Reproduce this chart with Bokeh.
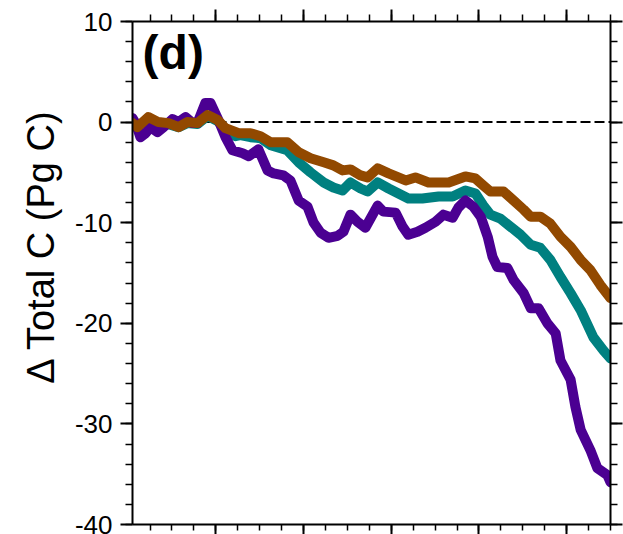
from bokeh.plotting import figure
from bokeh.models import Range1d, LinearAxis, SingleIntervalTicker, Span, Label
from bokeh.embed import file_html
from bokeh.resources import INLINE

# ---- data ----
purple_years = [1901, 1901.7, 1902.8, 1904.0, 1905.1, 1906.7, 1908.1, 1910.1, 1911.5, 1913.1,
                1914.7, 1915.8, 1917.6, 1918.8, 1920.6, 1922.2, 1923.8, 1926.1, 1927.5, 1929.7,
                1931.8, 1933.2, 1935.4, 1937.0, 1938.9, 1940.9, 1942.3, 1943.9, 1945.7, 1947.8,
                1949.1, 1950.7, 1952.3, 1954.1, 1956.9, 1958.2, 1961.0, 1962.6, 1963.9, 1966.0,
                1967.8, 1970.1, 1971.9, 1974.0, 1975.3, 1976.9, 1978.7, 1980.4, 1982.0, 1983.1,
                1984.2, 1986.5, 1987.9, 1990.2, 1991.8, 1993.6, 1995.6, 1997.5, 1998.6, 2000.9,
                2002.0, 2003.2, 2005.4, 2007.0, 2009.3, 2010.0]
purple_vals = [0.4, -0.1, -1.5, -1.1, -0.5, -1.0, -0.5, 0.3, 0.0, 0.5,
               -0.1, -0.1, 1.9, 1.9, 0.2, -1.5, -2.8, -3.1, -3.4, -2.7,
               -4.8, -5.1, -5.3, -5.8, -7.8, -8.4, -10.0, -11.0, -11.5, -11.3,
               -10.9, -9.2, -9.9, -10.5, -8.3, -8.9, -9.0, -10.4, -11.2, -10.9,
               -10.5, -9.9, -9.2, -9.5, -8.5, -7.8, -8.4, -9.4, -11.4, -13.4,
               -14.4, -14.5, -15.7, -17.0, -18.5, -18.5, -20.0, -21.0, -23.7, -25.6,
               -28.3, -30.6, -32.6, -34.4, -35.1, -35.8]

teal_years = [1901, 1902.1, 1904.6, 1906.9, 1909.2, 1911.5, 1913.5, 1915.8, 1918.1, 1920.4,
              1922.2, 1924.5, 1925.6, 1927.9, 1930.2, 1932.5, 1936.3, 1938.9, 1941.6, 1944.6,
              1946.8, 1948.9, 1950.7, 1953.0, 1954.6, 1956.9, 1959.4, 1963.9, 1967.1, 1970.8,
              1974.0, 1976.9, 1979.2, 1981.0, 1982.6, 1984.9, 1987.2, 1989.5, 1991.8, 1994.0,
              1996.3, 1998.6, 2000.9, 2003.2, 2006.1, 2008.4, 2010.0]
teal_vals = [-0.1, -0.5, 0.4, -0.1, -0.2, -0.5, -0.1, -0.2, 0.6, 0.1,
             -0.7, -1.4, -1.3, -1.5, -1.6, -2.3, -2.8, -4.0, -5.0, -6.0,
             -6.5, -6.8, -6.0, -6.6, -6.9, -6.0, -6.6, -7.6, -7.6, -7.4,
             -7.4, -6.8, -7.1, -8.3, -9.2, -9.6, -10.4, -11.2, -12.2, -12.5,
             -13.7, -15.4, -17.0, -18.7, -21.4, -22.7, -23.5]

brown_years = [1901, 1902.1, 1904.6, 1906.9, 1909.2, 1911.5, 1913.5, 1915.8, 1918.1, 1920.4,
               1922.2, 1925.2, 1927.9, 1930.2, 1932.5, 1936.3, 1938.9, 1941.6, 1944.6, 1946.8,
               1948.9, 1950.7, 1953.0, 1954.6, 1956.9, 1959.4, 1963.3, 1965.5, 1968.5, 1973.1,
               1976.9, 1979.2, 1981.0, 1982.6, 1985.6, 1987.9, 1990.2, 1991.8, 1994.0, 1996.3,
               1998.6, 2000.9, 2003.2, 2005.4, 2007.7, 2010.0]
brown_vals = [-0.1, -0.5, 0.5, 0.0, -0.1, -0.5, 0.0, -0.1, 0.7, 0.2,
              -0.6, -1.1, -1.1, -1.4, -2.0, -2.0, -3.0, -3.6, -4.0, -4.3,
              -4.8, -4.7, -5.3, -5.5, -4.6, -5.1, -5.8, -5.5, -6.0, -6.0,
              -5.4, -5.6, -6.3, -6.9, -6.9, -7.8, -8.7, -9.4, -9.4, -10.1,
              -11.4, -12.4, -13.7, -14.7, -16.2, -17.5]

x_start, x_end = 1901, 2010
y_start, y_end = -40, 10
x_major_ticks = [1920, 1940, 1960, 1980, 2000]
y_major_ticks = [-40, -30, -20, -10, 0, 10]
y_tick_labels = ["-40", "-30", "-20", "-10", "0", "10"]
panel_label = "(d)"
# leading no-break spaces shift the centred label upward, as in the reference
y_label = "\u00a0" * 5 + "\u0394 Total C (Pg C)"

FONT = "Liberation Sans"

p = figure(width=623, height=534, output_backend="svg", toolbar_location=None,
           x_range=Range1d(x_start, x_end), y_range=Range1d(y_start, y_end),
           x_axis_location=None, y_axis_location=None,
           min_border_left=132, min_border_right=13, min_border_top=21, min_border_bottom=10)
p.xgrid.visible = False
p.ygrid.visible = False
p.outline_line_color = None
p.background_fill_color = "white"
p.border_fill_color = "white"


def style(ax, overrides, font_size, standoff, tick_out=12, minor_out=7):
    ax.axis_line_width = 2
    ax.axis_line_color = "black"
    ax.major_tick_in = 0
    ax.minor_tick_in = 0
    ax.major_tick_out = tick_out
    ax.minor_tick_out = minor_out
    ax.major_tick_line_width = 2
    ax.minor_tick_line_width = 1.5
    ax.major_tick_line_color = "black"
    ax.minor_tick_line_color = "black"
    ax.major_label_overrides = overrides
    ax.major_label_text_font = FONT
    ax.major_label_text_font_size = font_size
    ax.major_label_text_color = "black"
    ax.major_label_standoff = standoff


yl = LinearAxis(ticker=SingleIntervalTicker(interval=10, num_minor_ticks=5))
style(yl, dict(zip(y_major_ticks, y_tick_labels)), "26px", 8)
yl.axis_label = y_label
yl.axis_label_text_font = FONT
yl.axis_label_text_font_size = "38px"
yl.axis_label_text_font_style = "normal"
yl.axis_label_text_color = "black"
yl.axis_label_standoff = 10
p.add_layout(yl, "left")

yr = LinearAxis(ticker=SingleIntervalTicker(interval=10, num_minor_ticks=5))
style(yr, {t: "" for t in y_major_ticks}, "1px", 0)
p.add_layout(yr, "right")

xb = LinearAxis(ticker=SingleIntervalTicker(interval=20, num_minor_ticks=4))
style(xb, {t: "" for t in x_major_ticks}, "1px", 0, tick_out=10, minor_out=6)
p.add_layout(xb, "below")

xt = LinearAxis(ticker=SingleIntervalTicker(interval=20, num_minor_ticks=4))
style(xt, {t: "" for t in x_major_ticks}, "1px", 0)
p.add_layout(xt, "above")

zero = Span(location=0, dimension="width", line_color="black", line_width=2,
            line_dash="10 4", level="underlay")
p.add_layout(zero)

common = dict(line_width=10, line_join="round", line_cap="round")
p.line(teal_years, teal_vals, line_color="#008080", **common)
p.line(purple_years, purple_vals, line_color="#4b0092", **common)
p.line(brown_years, brown_vals, line_color="#924900", **common)

lab = Label(x=1903.3, y=6.9, text=panel_label, text_font=FONT, text_font_size="48px",
            text_font_style="bold", text_color="black", text_baseline="alphabetic")
p.add_layout(lab)

open("out.html", "w").write(file_html(p, INLINE))
